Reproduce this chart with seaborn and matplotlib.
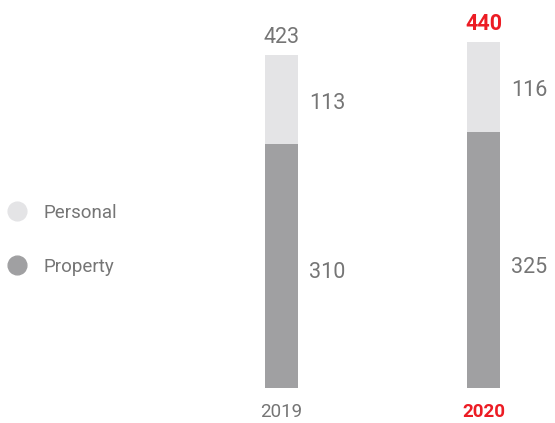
import matplotlib.pyplot as plt
from matplotlib.lines import Line2D
import seaborn as sns
import pandas as pd

years = ['2019', '2020']
property_vals = [310, 325]
personal_vals = [113, 116]
totals = [423, 440]

light = '#e4e4e6'
dark = '#a0a0a2'
grey_txt = '#757575'
red = '#ec1c24'

sns.set_style('white')
plt.rcParams['font.family'] = ['Roboto', 'DejaVu Sans']

df = pd.DataFrame({'Year': years, 'Property': property_vals,
                   'Personal': personal_vals, 'Total': totals})

fig = plt.figure(figsize=(5.55, 4.23), dpi=100)
# axes placed so bars sit where they are in the reference
ax = fig.add_axes([180.5 / 555, 35 / 423, 363.6 / 555, 362 / 423])

sns.barplot(data=df, x='Year', y='Total', color=light, width=0.163,
            saturation=1, linewidth=0, ax=ax)
sns.barplot(data=df, x='Year', y='Property', color=dark, width=0.163,
            saturation=1, linewidth=0, ax=ax)

ax.set_xlim(-0.5, 1.3)
ax.set_ylim(0, 460)
ax.set_xlabel('')
ax.set_ylabel('')
ax.set_yticks([])
sns.despine(ax=ax, left=True, bottom=True)
ax.tick_params(axis='x', length=0, pad=11, labelsize=13.5, labelcolor=grey_txt)
ax.get_xticklabels()[1].set_color(red)
ax.get_xticklabels()[1].set_fontweight('bold')

for i in range(len(years)):
    last = i == len(years) - 1
    ax.annotate(str(totals[i]), (i, totals[i]), xytext=(0, 5),
                textcoords='offset points', ha='center', va='bottom',
                fontsize=15.5, color=red if last else grey_txt,
                fontweight='bold' if last else 'normal')
    ax.annotate(str(personal_vals[i]), (i + 0.0815, property_vals[i] + personal_vals[i] / 2),
                xytext=(8, -3), textcoords='offset points', ha='left', va='center',
                fontsize=15.5, color=grey_txt)
    ax.annotate(str(property_vals[i]), (i + 0.0815, property_vals[i] / 2),
                xytext=(8, -5), textcoords='offset points', ha='left', va='center',
                fontsize=15.5, color=grey_txt)

handles = [Line2D([], [], marker='o', ls='', markersize=13.5, color=light),
           Line2D([], [], marker='o', ls='', markersize=13.5, color=dark)]
fig.legend(handles, ['Personal', 'Property'], loc='center left',
           bbox_to_anchor=(7.6 / 555, 0.433), frameon=False, fontsize=13.5,
           labelcolor=grey_txt, labelspacing=1.9, handlelength=1,
           handletextpad=0.94, borderpad=0, borderaxespad=0)

plt.savefig('out.png', dpi=100)
